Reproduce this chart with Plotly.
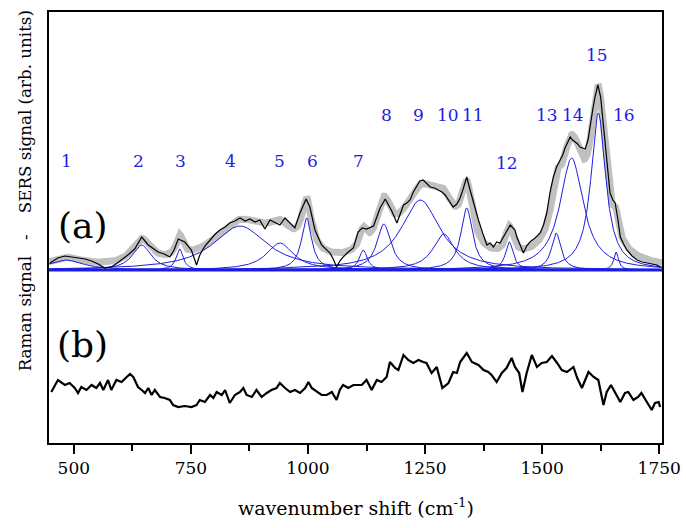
import numpy as np
import plotly.graph_objects as go

# ---------------- data ----------------
# SERS spectrum (panel a): wavenumber shift (cm-1) and signal above the fit baseline
sers_wn = [449, 466, 481, 495, 509, 524, 538, 552, 566, 580, 593, 605, 618, 630, 645, 659, 670, 680,
           693, 705, 714, 723, 737, 751, 762, 769, 780, 791, 802, 812, 823, 833, 844, 855, 866, 876,
           887, 897, 908, 919, 930, 940, 951, 962, 972, 983, 990, 996, 1004, 1015, 1029, 1047, 1055,
           1061, 1068, 1075, 1086, 1097, 1107, 1116, 1125, 1140, 1147, 1154, 1165, 1172, 1179, 1190,
           1197, 1204, 1211, 1218, 1225, 1232, 1239, 1246, 1254, 1261, 1270, 1278, 1286, 1293, 1302,
           1310, 1318, 1325, 1332, 1339, 1345, 1350, 1357, 1364, 1373, 1382, 1389, 1396, 1403, 1410,
           1421, 1432, 1442, 1446, 1453, 1460, 1467, 1474, 1485, 1496, 1503, 1510, 1517, 1524, 1531,
           1538, 1544, 1549, 1555, 1560, 1565, 1570, 1576, 1581, 1587, 1592, 1598, 1603, 1608, 1613,
           1619, 1625, 1630, 1635, 1640, 1645, 1651, 1656, 1662, 1667, 1674, 1681, 1692, 1703, 1714,
           1724, 1735, 1745, 1752]
sers_val = [7, 12, 14, 13, 12, 11, 9, 6, 2, 3, 7, 11, 16, 21, 33, 25, 21, 18,
            16, 13, 20, 31, 28, 20, 5, 15, 24, 30, 36, 40, 43, 47, 49, 52, 49, 51,
            48, 50, 41, 50, 47, 45, 52, 47, 42, 57, 65, 71, 63, 40, 25, 17, 10,
            3, 9, 13, 18, 22, 38, 42, 41, 44, 53, 62, 71, 65, 59, 47,
            56, 65, 67, 70, 78, 84, 89, 90, 86, 83, 82, 80, 78, 75, 69,
            63, 66, 72, 82, 93, 82, 73, 60, 50, 37, 25, 27, 23, 28, 27,
            36, 45, 40, 33, 25, 17, 24, 28, 32, 37, 45, 57, 78, 93, 103,
            110, 115, 122, 128, 133, 130, 128, 126, 123, 122, 121, 130, 147, 160, 173,
            185, 173, 148, 120, 95, 77, 70, 67, 50, 33, 26, 20, 14, 10, 8,
            7, 6, 5, 3]

# Fitted components (Lorentzian bands 1-16): centre, height, half width
peak_centre = [483, 645, 726, 855, 940, 997, 1118, 1162, 1240, 1290, 1339, 1430, 1530, 1563, 1620, 1658]
peak_height = [10, 25, 21, 44, 27, 52, 20, 46, 70, 36, 62, 28, 37, 112, 157, 18]
peak_hwhm = [45, 24, 9, 70, 35, 13, 10, 18, 50, 28, 15, 10, 12, 30, 19, 6]

# Band labels
label_text = ["1", "2", "3", "4", "5", "6", "7", "8", "9", "10", "11", "12", "13", "14", "15", "16"]
label_wn = [484, 638, 728, 835, 940, 1009, 1107, 1167, 1236, 1298, 1353, 1425, 1511, 1565, 1617, 1674]
label_level = [282, 282, 282, 282, 282, 282, 282, 328, 328, 328, 328, 280, 328, 328, 388, 328]

# Raman spectrum (panel b)
raman_wn = [452, 466, 481, 491, 502, 509, 516, 527, 538, 548, 556, 563, 573, 580, 591, 602, 613, 620,
            627, 637, 645, 652, 659, 666, 673, 684, 694, 705, 712, 723, 737, 751, 762, 769, 780, 791,
            798, 805, 816, 823, 833, 844, 855, 862, 869, 880, 890, 901, 912, 922, 933, 940, 951, 962,
            972, 983, 994, 1001, 1008, 1019, 1029, 1040, 1051, 1061, 1068, 1075, 1086, 1097, 1115,
            1125, 1136, 1147, 1157, 1168, 1175, 1186, 1193, 1204, 1214, 1225, 1236, 1246, 1253, 1264,
            1275, 1287, 1300, 1310, 1318, 1325, 1339, 1350, 1364, 1375, 1385, 1392, 1403, 1414, 1424,
            1435, 1442, 1451, 1458, 1467, 1478, 1489, 1499, 1510, 1521, 1532, 1542, 1553, 1567, 1575,
            1585, 1592, 1599, 1610, 1620, 1631, 1638, 1647, 1656, 1667, 1677, 1684, 1695, 1705, 1712,
            1724, 1734, 1741, 1749, 1752]
raman_val = [28, 40, 35, 37, 32, 27, 33, 30, 35, 32, 37, 30, 40, 30, 40, 38, 43, 46,
             43, 33, 30, 27, 32, 25, 30, 23, 22, 20, 15, 13, 14, 13, 15, 20, 18, 25,
             22, 28, 25, 30, 17, 25, 28, 32, 25, 23, 30, 23, 27, 30, 32, 37, 32, 28,
             30, 27, 32, 38, 32, 28, 25, 25, 28, 20, 30, 35, 32, 35, 35,
             40, 30, 40, 38, 43, 58, 52, 50, 65, 60, 57, 60, 58, 57, 47,
             53, 32, 37, 48, 47, 58, 67, 58, 55, 50, 48, 45, 38, 47, 52,
             62, 53, 47, 28, 47, 65, 53, 57, 58, 64, 57, 50, 48, 53, 42,
             32, 40, 48, 43, 40, 15, 28, 35, 27, 18, 27, 28, 20, 23, 27,
             17, 10, 17, 18, 13]

x_ticks = [500, 750, 1000, 1250, 1500, 1750]
x_minor = [625, 875, 1125, 1375, 1625]

# ---------------- figure ----------------
SERS_OFFSET = 173
RAMAN_OFFSET = 23
BLUE = "rgb(30,30,225)"
FONT = "DejaVu Serif"

wn = np.linspace(447, 1756, 1400)
components = [h / (1 + ((wn - c) / g) ** 2) for c, h, g in zip(peak_centre, peak_height, peak_hwhm)]
fit_sum = np.sum(components, axis=0)

fig = go.Figure()
fig.add_trace(go.Scatter(x=wn, y=fit_sum + SERS_OFFSET, mode="lines",
                         line=dict(color="rgb(192,192,192)", width=7), hoverinfo="skip"))
fig.add_trace(go.Scatter(x=[447, 1756], y=[SERS_OFFSET, SERS_OFFSET], mode="lines",
                         line=dict(color=BLUE, width=3)))
for comp in components:
    fig.add_trace(go.Scatter(x=wn, y=comp + SERS_OFFSET, mode="lines",
                             line=dict(color=BLUE, width=1)))
fig.add_trace(go.Scatter(x=sers_wn, y=np.array(sers_val) + SERS_OFFSET, mode="lines",
                         line=dict(color="black", width=1.2)))
fig.add_trace(go.Scatter(x=raman_wn, y=np.array(raman_val) + RAMAN_OFFSET, mode="lines",
                         line=dict(color="black", width=2.2)))

for t, xw, lv in zip(label_text, label_wn, label_level):
    fig.add_annotation(x=xw, y=lv, text=t, showarrow=False,
                       font=dict(family=FONT, size=17, color=BLUE), xanchor="center", yanchor="middle")

fig.add_annotation(x=0.055, y=218, xref="paper", yref="y", text="(a)", showarrow=False,
                   font=dict(family=FONT, size=36, color="black"), xanchor="center", yanchor="middle")
fig.add_annotation(x=0.055, y=99, xref="paper", yref="y", text="(b)", showarrow=False,
                   font=dict(family=FONT, size=36, color="black"), xanchor="center", yanchor="middle")

fig.add_annotation(x=-0.04, y=0.585, xref="paper", yref="paper", textangle=-90,
                   text="Raman signal\u00a0\u00a0\u00a0-\u00a0\u00a0\u00a0\u00a0SERS signal (arb. units)",
                   showarrow=False, font=dict(family=FONT, size=16.7, color="black"),
                   xanchor="center", yanchor="middle")
fig.add_annotation(x=0.5, y=-0.148, xref="paper", yref="paper",
                   text="wavenumber shift (cm<sup>-1</sup>)", showarrow=False,
                   font=dict(family=FONT, size=19, color="black"), xanchor="center", yanchor="middle")

fig.update_layout(
    width=686, height=528,
    margin=dict(l=49, r=24, t=12, b=85),
    paper_bgcolor="white", plot_bgcolor="white",
    showlegend=False,
    font=dict(family=FONT, size=18, color="black"),
    xaxis=dict(range=[447, 1756], tickvals=x_ticks, ticks="outside", ticklen=9, tickwidth=1.5,
               tickcolor="black", showgrid=False, zeroline=False, showline=True, linecolor="black",
               linewidth=2, mirror=True, tickfont=dict(family=FONT, size=17, color="black"),
               automargin=False,
               minor=dict(tickvals=x_minor, ticks="outside", ticklen=6,
                          tickwidth=1.5, tickcolor="black")),
    yaxis=dict(range=[0, 431], showticklabels=False, ticks="", showgrid=False, zeroline=False,
               showline=True, linecolor="black", linewidth=2, mirror=True, automargin=False),
)

fig.write_html("out.html", config={"displayModeBar": False},
               post_script="document.body.style.margin='0';document.body.style.padding='0';")
